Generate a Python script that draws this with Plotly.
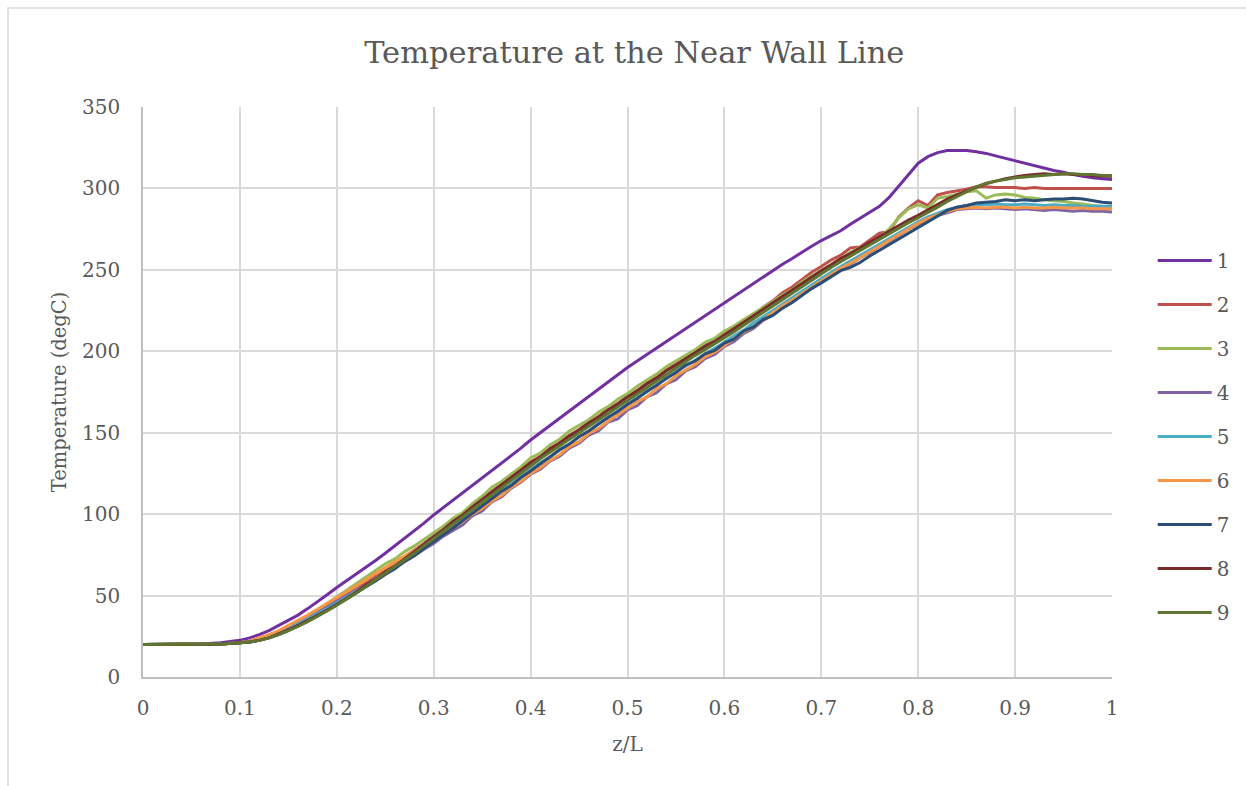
import plotly.graph_objects as go

# sample positions (z/L)
z_flat = [0.0, 0.02, 0.04, 0.06, 0.08]
z_main = [round(0.10 + 0.01 * i, 2) for i in range(91)]
z = z_flat + z_main

names = ["1", "2", "3", "4", "5", "6", "7", "8", "9"]

s1 = [20, 20, 20, 20.3, 21,
      22.5, 24, 26, 28.5, 31.5, 34.5, 38, 42, 46, 50.5, 55, 59, 63, 67, 71.5, 76, 80.5, 85, 89.5, 94.5,
      99.5, 104, 108.5, 113, 117.5, 122, 126.5, 131, 136, 140.5, 145.5, 150, 154.5, 159, 163.5, 168,
      172.5, 177, 181.5, 186, 190, 194, 198, 202, 206, 210, 214, 218, 222, 226, 230, 234, 238, 242,
      246, 250, 253.5, 257, 261, 264.5, 268, 271, 274, 278, 281.5, 285, 289, 294.5, 301.5, 309, 315.5,
      319.5, 322, 323.3, 323.5, 323.3, 322.5, 321.5, 320, 318.5, 317, 315.5, 314, 312.5, 311, 310,
      308.5, 307.5, 306.5, 306, 305.5]

s2 = [20, 20, 20, 20, 20.3,
      21, 22, 23.5, 25, 27.5, 30, 33, 36, 39.5, 43, 46.5, 50, 54, 58, 62.5, 66, 70, 74, 78.5, 82,
      87, 91, 96, 100, 105, 109.5, 113.5, 118.5, 123, 127, 132, 135.5, 140.5, 144, 148.5, 152, 156.5,
      160, 164.5, 168, 172.5, 176, 180.5, 184, 188.5, 192, 196, 199.5, 203.5, 206.5, 211, 214, 218.5,
      222, 227, 231, 236, 239.5, 244, 248.5, 252, 256, 259, 263.5, 264, 268.5, 272.5, 273.5, 282.5,
      288, 292.5, 289.5, 296, 297.5, 298.5, 299.5, 301, 301, 300.5, 300.5, 300.5, 300, 300.5, 300,
      300, 300, 300, 300, 300, 300, 300]

s3 = [20, 20, 20, 20, 20.3,
      21, 22, 23.5, 25.5, 28, 31, 34, 37.5, 41, 45, 49, 53.5, 57, 61.5, 65, 69.5, 72.5, 77, 80.5, 84.5,
      88.5, 92.5, 97.5, 101, 106.5, 111, 116.5, 120, 124.5, 129, 134.5, 137.5, 142.5, 146, 151, 154.5,
      158, 162.5, 166, 170.5, 174, 178.5, 182, 186, 190.5, 194, 198, 201, 205.5, 208, 212.5, 215.5,
      219.5, 223, 227, 230.5, 234.5, 238, 242.5, 246, 250, 253.5, 257, 261, 263.5, 266.5, 270, 275,
      282, 287.5, 290, 288, 294, 295, 296.5, 298, 298.5, 294, 296, 296.5, 296, 294.5, 294, 293, 292.5,
      292, 291, 290.5, 289.5, 289, 288.5]

s4 = [20, 20, 20, 20, 20.3,
      21, 22, 23.5, 25.5, 28, 30.5, 33.5, 36.5, 40, 43, 46.5, 49.5, 53, 56.5, 60, 63.5, 67, 71, 74.5,
      78.5, 82, 86.5, 90, 93.5, 99, 102, 107.5, 110.5, 116, 119.5, 124.5, 127.5, 132.5, 135.5, 140.5,
      143.5, 148.5, 151, 156.5, 158.5, 164, 166.5, 172, 174.5, 180, 182.5, 188, 190.5, 195.5, 198,
      203, 206, 211, 214, 219, 222.5, 227, 231, 235, 239, 243, 246.5, 250.5, 253.5, 257.5, 260.5,
      264.5, 267.5, 271.5, 275, 278, 281, 283.5, 285, 287, 287.5, 288, 287.5, 288, 287.5, 287, 287.5,
      287, 286.5, 287, 286.5, 286, 286.5, 286, 286, 285.5]

s5 = [20, 20, 20, 20, 20.3,
      21, 21.5, 23, 24.5, 27, 29.5, 32.5, 35.5, 38.5, 42, 45.5, 49, 52.5, 56.5, 60, 64, 67.5, 71.5,
      75.5, 79.5, 83.5, 88, 92, 96.5, 100.5, 105, 109.5, 114, 118, 123, 127, 131.5, 135, 139.5, 143,
      147.5, 151, 155.5, 159, 163.5, 167, 171.5, 175, 179.5, 183, 187.5, 191, 194.5, 198.5, 202,
      205.5, 209.5, 213, 217.5, 221, 225, 229, 233, 237, 241, 244.5, 248.5, 252, 255.5, 259, 262.5,
      266, 269.5, 273, 276.5, 279.5, 282.5, 285, 287, 288.5, 289.5, 290, 290, 290.5, 290, 290, 290.5,
      290, 289.5, 290, 289.5, 289.5, 289, 289, 289, 289]

s6 = [20, 20, 20, 20, 20.3,
      21, 22, 24, 26, 28.5, 31.5, 34.5, 38, 41.5, 45, 48.5, 52, 56, 59.5, 63.5, 67, 70.5, 74, 77.5,
      81, 84.5, 88, 92, 95.5, 100, 103.5, 108, 111.5, 116.5, 120, 125, 128.5, 133, 136.5, 141.5,
      144.5, 149.5, 152.5, 157, 161, 164.5, 169, 172, 177, 180, 185, 188.5, 192, 196.5, 199.5, 203.5,
      207.5, 212, 215, 219.5, 223.5, 228, 231.5, 235.5, 239.5, 243.5, 247, 251, 254, 257.5, 261, 265,
      268, 272, 275.5, 278.5, 281.5, 284, 286, 287.5, 288, 288.5, 288, 288.5, 288.5, 288, 288.5, 288,
      288, 288.5, 288, 288, 288, 287.5, 287.5, 287.5]

s7 = [20, 20, 20, 20, 20.3,
      21, 21.5, 22.5, 24, 26, 28.5, 31.5, 34.5, 37.5, 41, 44.5, 48, 51.5, 55.5, 59, 63, 66.5, 71,
      74.5, 79, 83, 87.5, 91.5, 96, 100.5, 105, 109, 114, 117.5, 122.5, 126.5, 131, 135, 139.5, 143,
      147.5, 151, 155.5, 159.5, 163, 167.5, 171, 175.5, 179, 183.5, 187, 191.5, 194, 198.5, 200.5,
      205, 207.5, 212.5, 215, 219.5, 222, 226.5, 230, 234.5, 238.5, 242, 245.5, 249.5, 251.5, 254.5,
      258.5, 262, 266, 269, 273, 276.5, 280, 283.5, 286.5, 288.5, 289.5, 291, 291.5, 292, 293, 292.5,
      293, 292.5, 293, 293.5, 293.5, 294, 293.5, 292.5, 291.5, 291]

s8 = [20, 20, 20, 20, 20.3,
      21, 21.5, 22.5, 24, 26.5, 29, 31.5, 34.5, 37.5, 41, 44.5, 48, 52, 56.5, 60, 64.5, 68, 72.5, 77,
      81, 86, 90.5, 95.5, 99.5, 104.5, 109, 113, 118, 122.5, 127, 131.5, 135, 140, 143.5, 148, 151.5,
      156, 159.5, 164, 167.5, 172, 175.5, 180, 183.5, 188, 191.5, 195.5, 199, 203, 206, 210, 213.5,
      218, 221.5, 226, 229.5, 234, 238, 241.5, 246, 249.5, 253, 257, 260, 263.5, 267, 270.5, 274,
      277.5, 280.5, 283.5, 287, 290, 293.5, 296, 298.5, 301, 303, 304.5, 306, 307, 308, 308.5, 309,
      308.5, 309, 308.5, 308.5, 308, 307.5, 307.5]

s9 = [20, 20, 20, 20, 20.3,
      21, 21.5, 22.5, 24, 26, 28.5, 31, 34, 37, 40.5, 44, 47.5, 51.5, 55.5, 59.5, 63.5, 67.5, 71.5,
      76, 80.5, 85, 89.5, 94, 98.5, 103, 107.5, 112, 116.5, 121, 125.5, 130, 134, 138, 142, 146, 150,
      154, 158, 162, 166, 170, 174, 178, 182, 186, 190, 194, 197.5, 201, 204.5, 208, 212, 216, 220,
      224, 228, 232, 236, 240, 244, 248, 251.5, 255, 258.5, 262, 265.5, 269, 272.5, 276, 279, 282,
      285, 288.5, 292, 295, 297.5, 301, 303, 304.5, 305.5, 306.5, 307, 307.5, 308, 308.5, 309, 309,
      308.5, 308.5, 308, 308]

series = [s1, s2, s3, s4, s5, s6, s7, s8, s9]
colors = ["#7030A0", "#C0504D", "#9BBB59", "#8064A2", "#4BACC6",
          "#F79646", "#2C4D75", "#772C2A", "#5F7530"]

x_ticks = [0, 0.1, 0.2, 0.3, 0.4, 0.5, 0.6, 0.7, 0.8, 0.9, 1]
x_tick_text = ["0", "0.1", "0.2", "0.3", "0.4", "0.5", "0.6", "0.7", "0.8", "0.9", "1"]
y_ticks = [0, 50, 100, 150, 200, 250, 300, 350]

FONT = "DejaVu Serif"
TXT = "#595959"

fig = go.Figure()
for name, ys, col in zip(names, series, colors):
    fig.add_trace(go.Scatter(x=z, y=ys, mode="lines", name=name, legendgroup=name,
                             line=dict(color=col, width=3)))

fig.update_layout(
    width=1246, height=786,
    margin=dict(l=143, r=134, t=107, b=109, autoexpand=False),
    paper_bgcolor="white", plot_bgcolor="white",
    title=dict(text="Temperature at the Near Wall Line", xref="paper", x=0.507, xanchor="center",
               y=0.934, yanchor="middle",
               font=dict(family=FONT, size=30.5, color=TXT)),
    legend=dict(x=1.042, xanchor="left", y=0.422, yanchor="middle",
                font=dict(family=FONT, size=20, color=TXT),
                traceorder="grouped", tracegroupgap=15, itemwidth=54,
                bgcolor="rgba(0,0,0,0)"),
    showlegend=True,
)
fig.update_xaxes(range=[0, 1], tickvals=x_ticks, ticktext=x_tick_text,
                 showgrid=True, gridcolor="#D9D9D9", gridwidth=1.5,
                 showline=True, linecolor="#BFBFBF", linewidth=1.5,
                 ticks="", zeroline=False, ticklabelstandoff=12,
                 tickfont=dict(family=FONT, size=20, color=TXT),
                 title=dict(text="z/L", font=dict(family=FONT, size=20, color=TXT), standoff=18))
fig.update_yaxes(range=[0, 350], tickvals=y_ticks,
                 showgrid=True, gridcolor="#D9D9D9", gridwidth=1.5,
                 showline=True, linecolor="#BFBFBF", linewidth=1.5,
                 ticks="", zeroline=False, ticklabelstandoff=17,
                 tickfont=dict(family=FONT, size=20, color=TXT),
                 title=dict(text="Temperature (degC)", font=dict(family=FONT, size=19.5, color=TXT),
                            standoff=10))
# outer chart border (visible at top and left)
fig.add_shape(type="rect", xref="paper", yref="paper",
              x0=(8 - 143) / 969, x1=1.5, y0=-0.5, y1=(677 - 8) / 570,
              line=dict(color="#D9D9D9", width=1.5), fillcolor="rgba(0,0,0,0)", layer="below")

fig.write_html("out.html")
